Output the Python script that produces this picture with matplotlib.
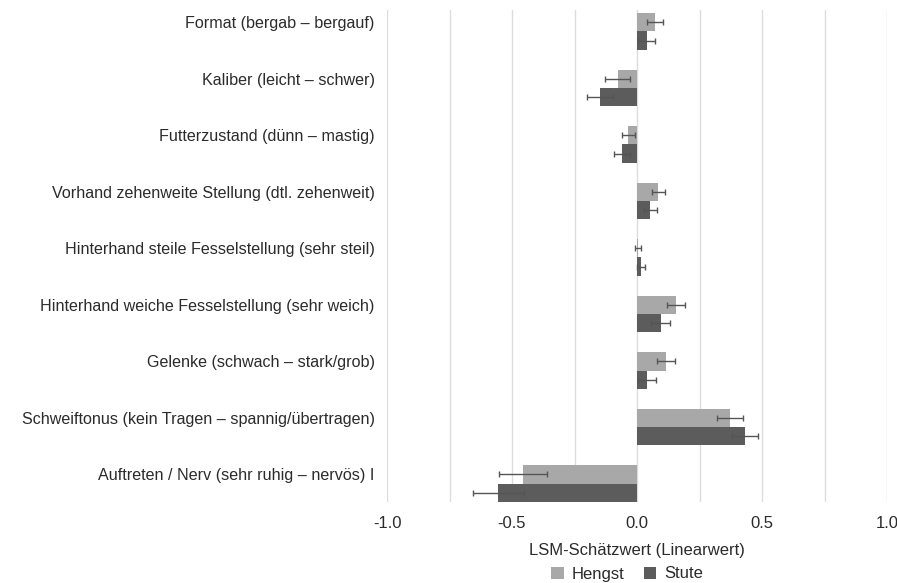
import matplotlib
matplotlib.use("Agg")
import matplotlib.pyplot as plt
import numpy as np
from matplotlib.patches import Patch

plt.rcParams['font.family'] = ['Liberation Sans', 'DejaVu Sans']

categories = [
    "Format (bergab – bergauf)",
    "Kaliber (leicht – schwer)",
    "Futterzustand (dünn – mastig)",
    "Vorhand zehenweite Stellung (dtl. zehenweit)",
    "Hinterhand steile Fesselstellung (sehr steil)",
    "Hinterhand weiche Fesselstellung (sehr weich)",
    "Gelenke (schwach – stark/grob)",
    "Schweiftonus (kein Tragen – spannig/übertragen)",
    "Auftreten / Nerv (sehr ruhig – nervös) I",
]
hengst = [0.071, -0.078, -0.035, 0.085, 0.004, 0.154, 0.115, 0.371, -0.457]
hengst_err = [0.033, 0.050, 0.027, 0.026, 0.013, 0.036, 0.035, 0.051, 0.097]
stute = [0.039, -0.149, -0.062, 0.053, 0.017, 0.094, 0.038, 0.433, -0.555]
stute_err = [0.034, 0.053, 0.032, 0.026, 0.016, 0.039, 0.036, 0.052, 0.102]
xticks = [-1.0, -0.5, 0.0, 0.5, 1.0]
xlabel = "LSM-Schätzwert (Linearwert)"
series_names = ["Hengst", "Stute"]

c_hengst = "#a8a8a8"
c_stute = "#5c5c5c"
c_err = "#555555"
c_text = "#2b2b2b"
fs = 12
fs_cat = 11.6

fig = plt.figure(figsize=(8.97, 5.83), dpi=100)
W, H = 897, 583
ax = fig.add_axes([387 / W, 1 - 502 / H, 500 / W, 492 / H])

y = np.arange(len(categories))
h = 0.32
ax.barh(y, hengst, height=h, color=c_hengst, zorder=2)
ax.barh(y + h, stute, height=h, color=c_stute, zorder=2)
ax.errorbar(hengst, y, xerr=hengst_err, fmt="none", ecolor=c_err,
            elinewidth=1.0, capsize=2.5, capthick=1.0, zorder=3)
ax.errorbar(stute, y + h, xerr=stute_err, fmt="none", ecolor=c_err,
            elinewidth=1.0, capsize=2.5, capthick=1.0, zorder=3)

ax.set_xlim(-1.0, 1.0)
ax.set_ylim(8.487, -0.22)
ax.set_xticks(xticks)
ax.set_xticklabels([f"{v:.1f}" for v in xticks], fontsize=fs, color=c_text)
ax.set_xticks(np.arange(-1.0, 1.01, 0.25), minor=True)
ax.set_yticks(y)
ax.set_yticklabels(categories, fontsize=fs_cat, color=c_text)
ax.tick_params(axis="both", which="both", length=0)
ax.tick_params(axis="y", pad=9)
ax.tick_params(axis="x", pad=10)
ax.grid(axis="x", which="both", color="#dcdcdc", linewidth=1.0, zorder=0)
for s in ax.spines.values():
    s.set_visible(False)

ax.set_xlabel(xlabel, fontsize=fs, color=c_text, labelpad=9)

handles = [Patch(facecolor=c_hengst, label=series_names[0]),
           Patch(facecolor=c_stute, label=series_names[1])]
fig.legend(handles=handles, loc="center", bbox_to_anchor=(627 / W, 1 - 574 / H),
           ncol=2, frameon=False, fontsize=fs, handlelength=0.75, handleheight=0.75,
           columnspacing=1.2, handletextpad=0.45, borderpad=0.0,
           labelcolor=c_text)

fig.savefig("out.png", dpi=100, facecolor="white")
